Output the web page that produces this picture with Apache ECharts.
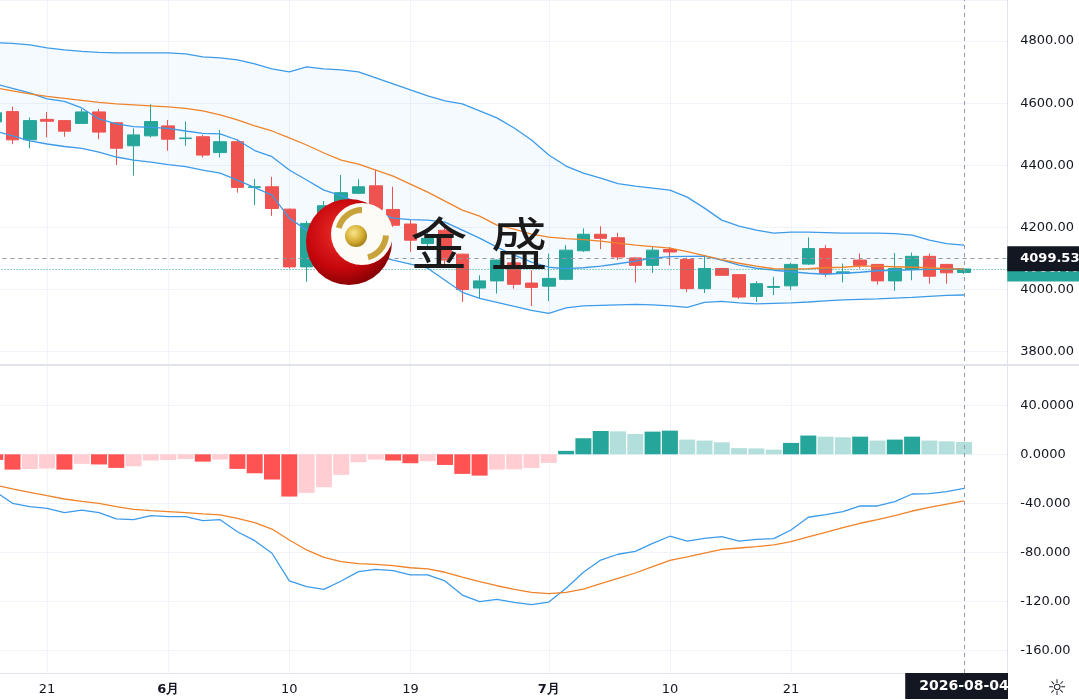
<!DOCTYPE html>
<html>
<head>
<meta charset="utf-8">
<title>金盛</title>
<script src="https://cdn.jsdelivr.net/npm/echarts@6/dist/echarts.min.js"></script>
<style>
html, body { margin: 0; padding: 0; background: #fff; }
#chart { width: 1079px; height: 700px; }
</style>
</head>
<body>
<div id="chart"></div>
<script>
// trading days shown on the chart (two empty slots on the right)
var dates = ['2026-05-18','2026-05-19','2026-05-20','2026-05-21','2026-05-22','2026-05-25','2026-05-26','2026-05-27','2026-05-28','2026-05-29',
    '2026-06-01','2026-06-02','2026-06-03','2026-06-04','2026-06-05','2026-06-08','2026-06-09','2026-06-10','2026-06-11','2026-06-12',
    '2026-06-15','2026-06-16','2026-06-17','2026-06-18','2026-06-19','2026-06-22','2026-06-23','2026-06-24','2026-06-25','2026-06-26',
    '2026-06-29','2026-06-30','2026-07-01','2026-07-02','2026-07-03','2026-07-06','2026-07-07','2026-07-08','2026-07-09','2026-07-10',
    '2026-07-13','2026-07-14','2026-07-15','2026-07-16','2026-07-17','2026-07-20','2026-07-21','2026-07-22','2026-07-23','2026-07-24',
    '2026-07-27','2026-07-28','2026-07-29','2026-07-30','2026-07-31','2026-08-03','2026-08-04','2026-08-05','2026-08-06'];

var opens  = [4540,4573,4482,4548,4544,4535,4572,4537,4463,4495, 4527,4486,4492,4441,4476,4329,4331,4259,4073,4213,
              4272,4310,4334,4258,4211,4148,4191,4114,4005,4028, 4086,4021,4011,4033,4125,4178,4167,4102,4078,4129,
              4097,4003,4068,4048,3978,4007,4012,4082,4132,4052, 4095,4081,4028,4065,4107,4081,4055];
var closes = [4569,4482,4544,4542,4510,4572,4507,4455,4498,4541, 4484,4488,4433,4476,4329,4331,4261,4073,4213,4270,
              4312,4331,4258,4207,4159,4165,4095,4000,4028,4095, 4017,4007,4036,4127,4178,4165,4105,4078,4127,4121,
              4003,4068,4046,3976,4019,4010,4081,4132,4052,4057, 4078,4028,4068,4107,4043,4054,4066.4];
var lows   = [4530,4468,4455,4490,4492,4533,4484,4401,4367,4490, 4447,4463,4425,4425,4312,4272,4237,4068,4025,4195,
              4256,4307,4218,4202,4121,4127,4078,3960,3971,3987, 4003,3947,3963,4030,4121,4130,4095,4023,4054,4078,
              3992,3989,4044,3971,3960,3982,3998,4079,4041,4023, 4068,4016,3996,4030,4019,4019,4050];
var highs  = [4578,4589,4554,4572,4546,4581,4581,4540,4519,4597, 4546,4541,4498,4514,4484,4356,4363,4261,4221,4285,
              4369,4355,4385,4331,4224,4185,4200,4116,4046,4097, 4090,4062,4116,4143,4197,4204,4183,4104,4140,4137,
              4103,4107,4070,4050,4027,4041,4086,4168,4143,4084, 4116,4082,4118,4119,4116,4083,4068];

var bollUpper = [4794.6,4792.9,4788.1,4778.4,4772.0,4767.1,4763.9,4762.3,4762.3,4762.3, 4762.3,4759.0,4749.4,4746.1,4739.7,4726.8,4710.6,4700.9,4717.1,4710.6,
                 4707.4,4700.9,4681.6,4662.3,4642.9,4623.6,4607.4,4597.7,4575.2,4552.6, 4520.4,4481.6,4433.2,4397.7,4375.2,4359.0,4341.3,4333.2,4326.8,4320.3,
                 4297.7,4262.3,4223.5,4204.2,4191.3,4181.6,4184.8,4184.8,4183.2,4181.6, 4181.6,4181.6,4180.0,4175.2,4159.0,4147.7,4142.9];
var bollLower = [4510.6,4494.5,4478.4,4468.7,4460.6,4454.8,4442.9,4426.8,4417.1,4410.6, 4402.6,4396.1,4384.8,4375.2,4352.6,4328.4,4304.2,4230.0,4191.3,4165.5,
                 4142.9,4126.8,4110.6,4094.5,4081.6,4068.7,4030.0,3991.3,3971.9,3959.0, 3946.1,3933.2,3923.5,3941.3,3947.7,3949.4,3951.0,3952.6,3951.0,3947.7,
                 3942.9,3959.0,3962.3,3957.4,3954.2,3955.8,3957.4,3960.0,3963.9,3967.1, 3968.7,3970.3,3972.6,3975.2,3978.4,3981.6,3982.6];
var bollBasis = [4649.4,4639.7,4630.0,4621.9,4615.5,4609.0,4602.6,4597.7,4594.5,4591.3, 4588.1,4583.2,4575.2,4562.3,4546.1,4526.8,4510.6,4488.1,4465.5,4439.7,
                 4417.1,4404.2,4384.8,4365.5,4339.7,4313.9,4284.8,4255.8,4236.5,4207.4, 4194.5,4178.4,4168.7,4163.9,4160.6,4155.8,4149.4,4142.9,4138.1,4133.2,
                 4121.9,4109.0,4096.1,4084.8,4075.2,4067.1,4065.5,4067.1,4070.3,4071.9, 4075.2,4075.2,4073.5,4071.9,4070.3,4067.1,4065.5];
var maFast    = [4662.3,4647.7,4633.2,4613.9,4605.8,4584.8,4549.4,4533.2,4524.5,4521.9, 4518.7,4510.6,4503.2,4501.0,4481.6,4447.7,4427.7,4384.8,4352.6,4320.3,
                 4302.6,4278.4,4249.4,4230.0,4225.2,4223.5,4217.1,4191.3,4165.5,4136.5, 4110.6,4088.1,4071.9,4067.7,4070.3,4075.2,4083.2,4091.3,4101.0,4105.8,
                 4106.8,4107.4,4094.5,4078.4,4068.7,4062.3,4057.4,4052.6,4049.4,4052.6, 4055.8,4060.6,4062.3,4063.9,4065.5,4065.5,4067.1];

var dif  = [-30.4,-40.0,-42.7,-44.1,-47.7,-45.5,-47.7,-52.8,-53.4,-50.1, -50.9,-50.9,-54.2,-53.4,-63.2,-70.5,-80.8,-103.4,-108.1,-110.2,
            -103.4,-95.8,-93.9,-95.0,-98.5,-98.5,-103.4,-114.9,-120.3,-118.4, -120.8,-122.8,-120.6,-109.4,-96.3,-86.3,-81.6,-79.2,-72.7,-66.9,
            -70.8,-68.6,-67.2,-70.8,-69.4,-68.9,-61.8,-51.4,-49.3,-46.8, -42.2,-42.2,-38.7,-32.4,-32.1,-30.5,-27.8];
var dea  = [-25.1,-28.3,-31.0,-33.8,-36.5,-38.4,-40.0,-42.7,-44.9,-46.0, -46.8,-47.7,-48.7,-49.5,-52.3,-55.8,-61.0,-70.0,-78.1,-84.1,
            -87.7,-89.3,-89.8,-90.9,-92.6,-93.6,-96.3,-100.2,-104.0,-107.3, -110.2,-112.7,-113.8,-112.7,-110.0,-105.6,-101.2,-96.9,-91.7,-86.6,
            -83.8,-80.6,-77.6,-76.5,-75.4,-74.0,-71.3,-67.5,-63.7,-59.9, -56.3,-53.4,-50.1,-46.3,-43.3,-40.6,-38.1];
var hist = [-4.6,-12.5,-12.0,-11.7,-12.5,-7.8,-8.3,-11.1,-9.8,-5.1, -4.6,-3.8,-6.0,-4.3,-11.9,-15.5,-20.6,-34.5,-31.5,-26.9,
            -16.8,-6.5,-4.3,-5.1,-7.3,-5.6,-8.7,-16.0,-17.4,-12.5, -12.3,-11.1,-7.0,2.8,13.1,19.0,18.7,16.6,18.5,19.3,
            12.0,11.2,9.8,5.0,4.8,3.8,9.3,15.3,14.4,13.9, 14.4,11.2,12.0,14.4,11.2,10.6,10.1];

// bottom axis labels
var tickLabels = {
    '2026-05-21': '21', '2026-06-01': '6月', '2026-06-10': '10', '2026-06-19': '19',
    '2026-07-01': '7月', '2026-07-10': '10', '2026-07-21': '21'
};
var crossDate = '2026-08-04';
var crossPrice = 4099.53;
var lastClose = closes[closes.length - 1];

var UP = '#26a69a', DOWN = '#ef5350';
var BLUE = '#3d9be9', ORANGE = '#f0832a';
var TXT = '#131722', GRIDC = '#f0f3fa';
var L = -13.45, R = 71.75;

var myChart = echarts.init(document.getElementById('chart'));

var candleData = opens.map(function (o, i) {
    return [o, closes[i], lows[i], highs[i]];
});
var bandWidth = bollUpper.map(function (u, i) { return +(u - bollLower[i]).toFixed(2); });

function isTick(idx, val) { return tickLabels.hasOwnProperty(val); }

function histColor(p) {
    var v = hist[p.dataIndex], prev = p.dataIndex > 0 ? hist[p.dataIndex - 1] : 0;
    if (v >= 0) return v >= prev ? '#26a69a' : '#b2dfdb';
    return v <= prev ? '#ff5252' : '#ffcdd2';
}

function lineSeries(name, data, color, xi, yi) {
    return {
        name: name, type: 'line', xAxisIndex: xi, yAxisIndex: yi, data: data,
        symbol: 'none', smooth: false, silent: true, z: 4,
        lineStyle: { color: color, width: 1.3 }
    };
}

option = {
    animation: false,
    backgroundColor: '#ffffff',
    textStyle: { fontFamily: 'DejaVu Sans' },
    grid: [
        { left: L, right: R, top: 0, bottom: 348.3, outerBoundsMode: 'none' },
        { left: L, right: R, top: 364, bottom: 49.7, outerBoundsMode: 'none' },
        { left: L, right: R, top: 0, bottom: 27, outerBoundsMode: 'none' }
    ],
    xAxis: [
        { type: 'category', gridIndex: 0, data: dates, show: false },
        { type: 'category', gridIndex: 1, data: dates, show: false },
        {
            type: 'category', gridIndex: 2, data: dates,
            axisLine: { show: true, lineStyle: { color: '#e0e3eb', width: 1 } },
            axisTick: { show: false },
            axisLabel: {
                interval: isTick, color: TXT, fontSize: 13, margin: 10,
                formatter: function (v) {
                    var t = tickLabels[v] || '';
                    return t.indexOf('月') > 0 ? '{b|' + t + '}' : t;
                },
                rich: { b: { fontWeight: 'bold', fontSize: 13, color: TXT } }
            },
            splitLine: { show: true, interval: isTick, alignWithLabel: true, lineStyle: { color: GRIDC, width: 1 } }
        }
    ],
    yAxis: [
        {
            type: 'value', gridIndex: 0, position: 'right', scale: true,
            min: 3800, max: 4932.3, interval: 200,
            axisLine: { show: false }, axisTick: { show: false },
            axisLabel: {
                color: TXT, fontSize: 13, margin: 13, showMaxLabel: false,
                formatter: function (v) { return v.toFixed(2); }
            },
            splitLine: { lineStyle: { color: GRIDC, width: 1 } }
        },
        {
            type: 'value', gridIndex: 1, position: 'right',
            min: -160, max: 73.7, interval: 40,
            axisLine: { show: false }, axisTick: { show: false },
            axisLabel: {
                color: TXT, fontSize: 13, margin: 13, showMaxLabel: false,
                formatter: function (v) { var s = v.toFixed(4); return s.length > 7 ? s.slice(0, 7) : s; }
            },
            splitLine: { lineStyle: { color: GRIDC, width: 1 } }
        },
        {
            type: 'value', gridIndex: 2, position: 'right', min: 0, max: 1,
            axisLine: { show: true, lineStyle: { color: '#e0e3eb', width: 1 } },
            axisTick: { show: false }, axisLabel: { show: false }, splitLine: { show: false }
        }
    ],
    series: [
        // band fill between upper and lower
        {
            type: 'line', xAxisIndex: 0, yAxisIndex: 0, data: bollLower, stack: 'band',
            symbol: 'none', silent: true, lineStyle: { opacity: 0 }, z: 1
        },
        {
            type: 'line', xAxisIndex: 0, yAxisIndex: 0, data: bandWidth, stack: 'band',
            symbol: 'none', silent: true, lineStyle: { opacity: 0 }, z: 1,
            areaStyle: { color: 'rgba(33,150,243,0.07)' }
        },
        {
            name: 'K', type: 'candlestick', xAxisIndex: 0, yAxisIndex: 0, data: candleData,
            barWidth: 13, silent: true, z: 3,
            itemStyle: { color: UP, color0: DOWN, borderColor: UP, borderColor0: DOWN, borderWidth: 1 },
            markLine: {
                symbol: 'none', silent: true, animation: false,
                data: [
                    {
                        yAxis: lastClose,
                        lineStyle: { type: [1, 2], color: UP, width: 1 },
                        label: {
                            show: true, position: 'end', distance: 0, formatter: lastClose.toFixed(2),
                            backgroundColor: UP, color: '#fff', fontSize: 13, fontWeight: 'bold', padding: [6, 14, 6, 13]
                        }
                    },
                    {
                        yAxis: crossPrice,
                        lineStyle: { type: [4, 4], color: '#9598a1', width: 1 },
                        label: {
                            show: true, position: 'end', distance: 0, formatter: crossPrice.toFixed(2),
                            backgroundColor: '#131722', color: '#fff', fontSize: 13, fontWeight: 'bold', padding: [6, 14, 6, 13]
                        }
                    }
                ]
            }
        },
        lineSeries('UPPER', bollUpper, BLUE, 0, 0),
        lineSeries('LOWER', bollLower, BLUE, 0, 0),
        lineSeries('MA', maFast, BLUE, 0, 0),
        lineSeries('BASIS', bollBasis, ORANGE, 0, 0),
        {
            name: 'MACD', type: 'bar', xAxisIndex: 1, yAxisIndex: 1, data: hist,
            barWidth: 16, silent: true, itemStyle: { color: histColor }
        },
        lineSeries('DIF', dif, BLUE, 1, 1),
        lineSeries('DEA', dea, ORANGE, 1, 1),
        {
            type: 'line', xAxisIndex: 2, yAxisIndex: 2, silent: true, symbol: 'none', z: 10,
            data: dates.map(function () { return null; }),
            markLine: {
                symbol: 'none', silent: true, animation: false,
                lineStyle: { type: [4, 4], color: '#9598a1', width: 1 },
                label: {
                    show: true, position: 'start', distance: 0, formatter: crossDate,
                    backgroundColor: '#131722', color: '#fff', fontSize: 14, fontWeight: 'bold', padding: [6, 14, 6, 14]
                },
                data: [{ xAxis: crossDate }]
            }
        }
    ],
    graphic: [
        // pane separator
        { type: 'line', shape: { x1: 0, y1: 365, x2: 1079, y2: 365 }, style: { stroke: '#e0e3eb', lineWidth: 2 }, z: 50, silent: true },
        // cover right of the date box (settings corner)
        { type: 'rect', shape: { x: 1008, y: 672, width: 71, height: 28 }, style: { fill: '#ffffff' }, z: 70, silent: true },
        // watermark logo
        {
            type: 'circle', shape: { cx: 349, cy: 242, r: 43 }, z: 60, silent: true,
            style: { fill: new echarts.graphic.RadialGradient(0.42, 0.4, 0.7, [
                { offset: 0, color: '#f0302a' }, { offset: 0.6, color: '#c4060c' }, { offset: 1, color: '#6e0000' }
            ]) }
        },
        {
            type: 'circle', shape: { cx: 362, cy: 234, r: 31 }, z: 61, silent: true,
            style: { fill: '#fdfbf6' }
        },
        {
            type: 'arc', shape: { cx: 362, cy: 234, r: 24, startAngle: Math.PI * 1.08, endAngle: Math.PI * 1.5 }, z: 62, silent: true,
            style: { stroke: '#c8a33c', lineWidth: 6, fill: 'none' }
        },
        {
            type: 'arc', shape: { cx: 362, cy: 234, r: 24, startAngle: Math.PI * 0.02, endAngle: Math.PI * 0.42 }, z: 62, silent: true,
            style: { stroke: '#c8a33c', lineWidth: 6, fill: 'none' }
        },
        {
            type: 'circle', shape: { cx: 356, cy: 236, r: 11 }, z: 63, silent: true,
            style: { fill: new echarts.graphic.RadialGradient(0.4, 0.35, 0.7, [
                { offset: 0, color: '#f8e48a' }, { offset: 0.6, color: '#d4ad32' }, { offset: 1, color: '#9c7714' }
            ]) }
        },
        {
            type: 'text', x: 439, y: 243, z: 64, silent: true,
            style: { text: '金', fontSize: 57, fontFamily: 'Noto Sans CJK SC', fill: '#1a1a1a', align: 'center', verticalAlign: 'middle' }
        },
        {
            type: 'text', x: 519, y: 243, z: 64, silent: true,
            style: { text: '盛', fontSize: 57, fontFamily: 'Noto Sans CJK SC', fill: '#1a1a1a', align: 'center', verticalAlign: 'middle' }
        },
        // settings icon
        {
            type: 'text', x: 1057, y: 689, z: 71, silent: true,
            style: { text: '☼', fontSize: 22, fontFamily: 'DejaVu Sans', fill: TXT, align: 'center', verticalAlign: 'middle' }
        }
    ]
};
myChart.setOption(option);
</script>
</body>
</html>
